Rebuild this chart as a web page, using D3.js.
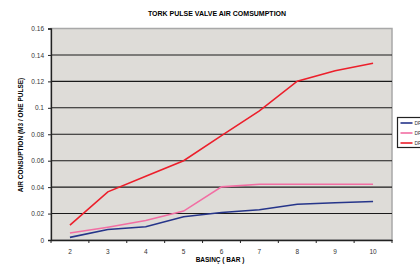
<!DOCTYPE html>
<html>
<head>
<meta charset="utf-8">
<script src="https://cdn.jsdelivr.net/npm/d3@7"></script>
<style>
  body { margin: 0; background: #fff; }
  svg { display: block; font-family: "Liberation Sans", Arial, sans-serif; }
</style>
</head>
<body>
<svg width="420" height="264"></svg>
<script>
// data
var pressures = ["2", "3", "4", "5", "6", "7", "8", "9", "10"];
var dpSmall = [0.002, 0.008, 0.010, 0.0176, 0.0208, 0.0229, 0.0271, 0.0282, 0.0291];
var dpMid = [0.0053, 0.0097, 0.0147, 0.0219, 0.0402, 0.0422, 0.0422, 0.0422, 0.0422];
var dpBig = [0.0113, 0.0364, 0.0483, 0.0600, 0.0790, 0.0977, 0.1202, 0.1281, 0.1337];
var seriesNames = ["DP 20", "DP 25", "DP 40"];
var seriesColors = ["#26358a", "#f26ea3", "#ec1f2b"];
var yTicks = [0, 0.02, 0.04, 0.06, 0.08, 0.1, 0.12, 0.14, 0.16];

var svg = d3.select("svg");
var plotLeft = 51, plotRight = 392, plotTop = 28.5, plotBottom = 240;

var x = d3.scaleBand().domain(pressures).range([plotLeft, plotRight]);
var y = d3.scaleLinear().domain([0, 0.16]).range([plotBottom, plotTop]);

// plot area
svg.append("rect")
  .attr("x", plotLeft).attr("y", plotTop)
  .attr("width", plotRight - plotLeft).attr("height", plotBottom - plotTop)
  .attr("fill", "#dedcd8")
  .attr("stroke", "#a8a8a8").attr("stroke-width", 1.5);

// grid
svg.append("g").selectAll("line")
  .data(yTicks.slice(1, -1))
  .enter().append("line")
  .attr("x1", plotLeft).attr("x2", plotRight)
  .attr("y1", d => y(d)).attr("y2", d => y(d))
  .attr("stroke", "#1a1a1a").attr("stroke-width", 1.1);

// y axis
var yAxis = svg.append("g")
  .attr("transform", "translate(" + plotLeft + ",0)")
  .call(d3.axisLeft(y).tickValues(yTicks).tickSize(3).tickPadding(4).tickFormat(d => String(+d.toFixed(2))));
yAxis.select(".domain").attr("stroke", "#222").attr("stroke-width", 1.3);
yAxis.selectAll("line").attr("stroke", "#222");
yAxis.selectAll("text").attr("font-size", "6.5px").attr("fill", "#333");

// x axis
var xAxis = svg.append("g")
  .attr("transform", "translate(0," + plotBottom + ")")
  .call(d3.axisBottom(x).tickSize(0).tickPadding(9));
xAxis.select(".domain").attr("stroke", "#222").attr("stroke-width", 1.3);
xAxis.selectAll("text").attr("font-size", "6.5px").attr("fill", "#333");
xAxis.selectAll(".sep")
  .data(d3.range(pressures.length + 1))
  .enter().append("line")
  .attr("x1", i => plotLeft + i * x.step()).attr("x2", i => plotLeft + i * x.step())
  .attr("y1", 0).attr("y2", 3)
  .attr("stroke", "#222");

// lines
var allSeries = [dpSmall, dpMid, dpBig];
var line = d3.line()
  .x((d, i) => x(pressures[i]) + x.bandwidth() / 2)
  .y(d => y(d));
svg.append("g").selectAll("path")
  .data(allSeries)
  .enter().append("path")
  .attr("d", line)
  .attr("fill", "none")
  .attr("stroke", (d, i) => seriesColors[i])
  .attr("stroke-width", 1.6);

// titles
svg.append("text")
  .attr("x", 217).attr("y", 16)
  .attr("text-anchor", "middle")
  .attr("font-size", "7px").attr("font-weight", "bold")
  .text("TORK PULSE VALVE AIR COMSUMPTION");
svg.append("text")
  .attr("x", 220).attr("y", 262)
  .attr("text-anchor", "middle")
  .attr("font-size", "6.5px").attr("font-weight", "bold")
  .text("BASINÇ ( BAR )");
svg.append("text")
  .attr("transform", "translate(23,135) rotate(-90)")
  .attr("text-anchor", "middle")
  .attr("font-size", "6.5px").attr("font-weight", "bold")
  .text("AIR CONSUPTION (M3 / ONE PULSE)");

// legend (runs off the right edge, as in the original)
var lg = svg.append("g").attr("transform", "translate(397.5,117.5)");
lg.append("rect")
  .attr("x", 0).attr("y", 0).attr("width", 40).attr("height", 30)
  .attr("fill", "#fff").attr("stroke", "#222").attr("stroke-width", 1.2);
var items = lg.selectAll(".item")
  .data(seriesNames)
  .enter().append("g")
  .attr("transform", (d, i) => "translate(0," + (5.5 + i * 10) + ")");
items.append("line")
  .attr("x1", 3).attr("x2", 15)
  .attr("stroke", (d, i) => seriesColors[i]).attr("stroke-width", 1.6);
items.append("text")
  .attr("x", 17).attr("y", 2)
  .attr("font-size", "5px").attr("fill", "#333")
  .text(d => d);
</script>
</body>
</html>
